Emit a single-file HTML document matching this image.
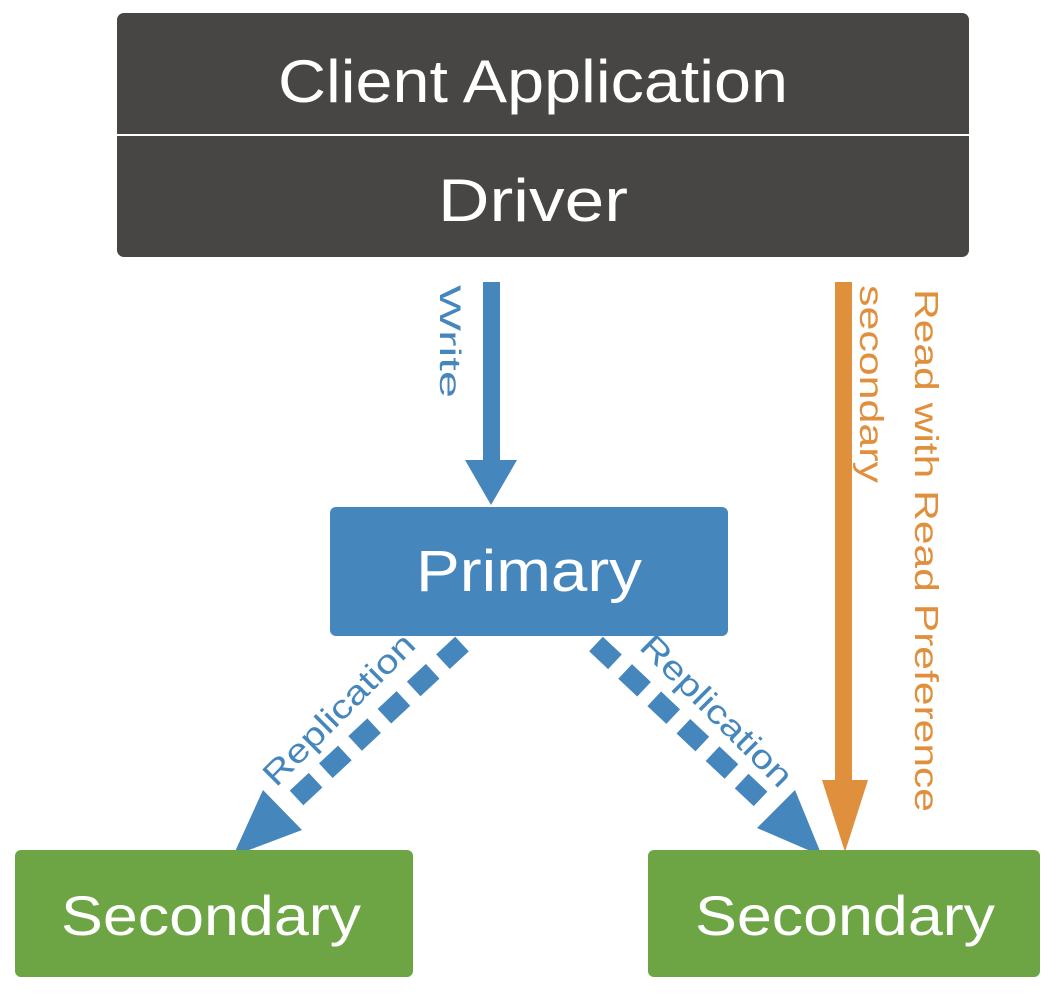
<!DOCTYPE html>
<html><head><meta charset="utf-8"><style>
html,body{margin:0;padding:0;background:#fff;}
svg{display:block;}
text{font-family:"Liberation Sans",sans-serif;}
</style></head><body>
<svg width="1062" height="994" viewBox="0 0 1062 994" xmlns="http://www.w3.org/2000/svg">
<rect x="117" y="13" width="852" height="244" rx="7" fill="#474644"/>
<line x1="117" y1="135" x2="969" y2="135" stroke="#fff" stroke-width="2"/>
<text x="533" y="102" font-size="60" fill="#fff" text-anchor="middle" textLength="510" lengthAdjust="spacingAndGlyphs">Client Application</text>
<text x="533" y="221" font-size="60" fill="#fff" text-anchor="middle" textLength="190" lengthAdjust="spacingAndGlyphs">Driver</text>

<rect x="483" y="282" width="17" height="180" fill="#4586bd"/>
<polygon points="465,460 517,460 491,505" fill="#4586bd"/>
<text transform="translate(440,285) rotate(90)" font-size="30" fill="#4586bd" textLength="113" lengthAdjust="spacingAndGlyphs">Write</text>

<rect x="330" y="507" width="398" height="129" rx="6" fill="#4586bd"/>
<text x="529" y="591" font-size="58" fill="#fff" text-anchor="middle" textLength="226" lengthAdjust="spacingAndGlyphs">Primary</text>

<rect x="835" y="282" width="17" height="500" fill="#e08f3d"/>
<polygon points="822,780 868,780 845,852" fill="#e08f3d"/>
<text transform="translate(860,285) rotate(90)" font-size="33" fill="#e08f3d" textLength="198" lengthAdjust="spacingAndGlyphs">secondary</text>
<text transform="translate(915,289) rotate(90)" font-size="33" fill="#e08f3d" textLength="523" lengthAdjust="spacingAndGlyphs">Read with Read Preference</text>

<line x1="462" y1="644" x2="290" y2="804" stroke="#4586bd" stroke-width="20" stroke-dasharray="26,14"/>
<polygon points="263,790 302,830 233,856" fill="#4586bd"/>
<line x1="596" y1="644" x2="766" y2="804" stroke="#4586bd" stroke-width="20" stroke-dasharray="26,14"/>
<polygon points="795,790 757,828 822,856" fill="#4586bd"/>
<text transform="translate(276,788) rotate(-45)" font-size="33" fill="#4586bd" textLength="200" lengthAdjust="spacingAndGlyphs">Replication</text>
<text transform="translate(638,648) rotate(45)" font-size="33" fill="#4586bd" textLength="200" lengthAdjust="spacingAndGlyphs">Replication</text>

<rect x="15" y="850" width="398" height="127" rx="6" fill="#6ea544"/>
<text x="211" y="935" font-size="56" fill="#fff" text-anchor="middle" textLength="300" lengthAdjust="spacingAndGlyphs">Secondary</text>
<rect x="648" y="850" width="392" height="127" rx="6" fill="#6ea544"/>
<text x="845" y="935" font-size="56" fill="#fff" text-anchor="middle" textLength="300" lengthAdjust="spacingAndGlyphs">Secondary</text>
</svg>
</body></html>
